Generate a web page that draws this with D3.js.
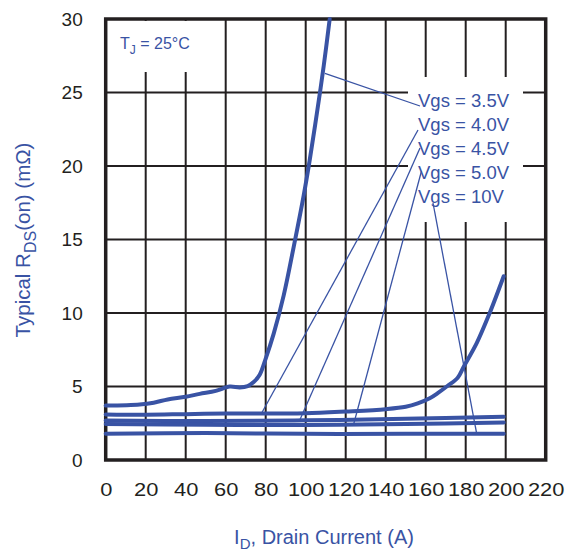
<!DOCTYPE html>
<html>
<head>
<meta charset="utf-8">
<script src="https://cdn.jsdelivr.net/npm/d3@7"></script>
<style>
  html, body { margin: 0; padding: 0; background: #fff; }
  svg { display: block; }
  text { font-family: "Liberation Sans", Arial, Helvetica, sans-serif; }
</style>
</head>
<body>
<svg id="chart" width="575" height="553"></svg>
<script>
// ---- data ----
const xTicks = [0, 20, 40, 60, 80, 100, 120, 140, 160, 180, 200, 220];
const yTicks = [0, 5, 10, 15, 20, 25, 30];

const seriesNames = ["Vgs = 3.5V", "Vgs = 4.0V", "Vgs = 4.5V", "Vgs = 5.0V", "Vgs = 10V"];

const id35 = [0, 17, 24, 31, 40, 47, 55, 62, 67, 71, 74, 77, 80, 84, 89, 94, 99, 102, 105.5, 109, 112];
const r35  = [3.7, 3.78, 3.9, 4.12, 4.3, 4.5, 4.7, 5.0, 4.94, 5.03, 5.3, 5.8, 6.9, 8.6, 11.2, 14.5, 18.0, 20.4, 23.5, 26.8, 30];

const id40 = [0, 20, 40, 60, 80, 100, 120, 140, 150, 156, 162, 166, 171, 176, 179, 185.5, 192, 199];
const r40  = [3.1, 3.08, 3.12, 3.16, 3.17, 3.18, 3.3, 3.46, 3.62, 3.85, 4.2, 4.55, 5.05, 5.6, 6.35, 7.95, 10.0, 12.5];

const id45 = [0, 50, 100, 150, 199];
const r45  = [2.68, 2.65, 2.7, 2.8, 2.95];

const id50 = [0, 50, 100, 150, 199];
const r50  = [2.45, 2.4, 2.38, 2.45, 2.55];

const id10 = [0, 50, 100, 150, 199];
const r10  = [1.78, 1.83, 1.78, 1.78, 1.78];

// leader targets on curves (data coords)
const leaderI = [109.6, 78, 97, 124, 185.5];
const leaderR = [26.3, 3.2, 2.7, 2.45, 1.8];

// ---- drawing ----
const svg = d3.select("#chart");
const blue = "#3953a4";
const ink = "#231f20";

const x = d3.scaleLinear().domain([0, 220]).range([105.7, 545.7]);
const y = d3.scaleLinear().domain([0, 30]).range([460, 19]);

// gridlines
const grid = svg.append("g");
grid.selectAll("line.v").data(xTicks.slice(1, -1)).enter().append("line")
  .attr("x1", d => x(d)).attr("x2", d => x(d))
  .attr("y1", y(0)).attr("y2", y(30))
  .attr("stroke", ink).attr("stroke-width", 2);
grid.selectAll("line.h").data(yTicks.slice(1, -1)).enter().append("line")
  .attr("x1", x(0)).attr("x2", x(220))
  .attr("y1", d => y(d)).attr("y2", d => y(d))
  .attr("stroke", ink).attr("stroke-width", 2);

// white boxes behind labels
svg.append("rect").attr("x", 107).attr("y", 21).attr("width", 108).attr("height", 51).attr("fill", "#fff");
svg.append("rect").attr("x", 408).attr("y", 77).attr("width", 115).attr("height", 145).attr("fill", "#fff");

// frame
svg.append("rect")
  .attr("x", x(0)).attr("y", y(30))
  .attr("width", x(220) - x(0)).attr("height", y(0) - y(30))
  .attr("fill", "none").attr("stroke", ink).attr("stroke-width", 3.5);

// axes (labels only)
const xAxis = svg.append("g").attr("transform", `translate(0,${y(0)})`)
  .call(d3.axisBottom(x).tickValues(xTicks).tickSize(0).tickPadding(24).tickFormat(d3.format("d")));
xAxis.select(".domain").remove();
xAxis.selectAll("text")
  .attr("font-size", 17.5).attr("fill", ink)
  .attr("font-family", "Liberation Sans, Arial, sans-serif")
  .attr("transform", "scale(1.25,1)");

const yAxis = svg.append("g").attr("transform", `translate(${x(0)},0)`)
  .call(d3.axisLeft(y).tickValues(yTicks).tickSize(0).tickPadding(23).tickFormat(d3.format("d")));
yAxis.select(".domain").remove();
yAxis.selectAll("text")
  .attr("font-size", 19).attr("fill", ink)
  .attr("font-family", "Liberation Sans, Arial, sans-serif");

// curves
const line = d3.line().x(d => x(d[0])).y(d => y(d[1])).curve(d3.curveCatmullRom.alpha(0.5));
const series = [
  d3.zip(id35, r35), d3.zip(id40, r40), d3.zip(id45, r45), d3.zip(id50, r50), d3.zip(id10, r10)
];
svg.append("g").selectAll("path").data(series).enter().append("path")
  .attr("d", line).attr("fill", "none")
  .attr("stroke", blue).attr("stroke-width", 4).attr("stroke-linecap", "round");

// labels + leaders
const labelX = 418, labelY0 = 107, labelDy = 24;
const leaderEnds = [[420, 106], [418, 130], [420, 148], [421.5, 171], [433, 203]];
const lg = svg.append("g");
seriesNames.forEach((name, i) => {
  lg.append("line")
    .attr("x1", x(leaderI[i])).attr("y1", y(leaderR[i]))
    .attr("x2", leaderEnds[i][0]).attr("y2", leaderEnds[i][1])
    .attr("stroke", blue).attr("stroke-width", 1.3);
  lg.append("text")
    .attr("x", labelX).attr("y", labelY0 + i * labelDy)
    .attr("font-size", 18.5).attr("fill", blue)
    .text(name);
});

// TJ label
const tj = svg.append("text").attr("x", 120).attr("y", 49).attr("font-size", 16).attr("fill", blue);
tj.append("tspan").text("T");
tj.append("tspan").attr("dy", 5).attr("font-size", 12).text("J");
tj.append("tspan").attr("dy", -5).text(" = 25°C");

// axis titles
const xt = svg.append("text").attr("x", 324).attr("y", 544).attr("text-anchor", "middle")
  .attr("font-size", 20).attr("fill", blue);
xt.append("tspan").text("I");
xt.append("tspan").attr("dy", 5).attr("font-size", 15).text("D");
xt.append("tspan").attr("dy", -5).text(", Drain Current (A)");

const yt = svg.append("text").attr("transform", "translate(30,240) rotate(-90)")
  .attr("text-anchor", "middle").attr("font-size", 20.5).attr("fill", blue);
yt.append("tspan").text("Typical R");
yt.append("tspan").attr("dy", 6).attr("font-size", 16).text("DS");
yt.append("tspan").attr("dy", -6).text("(on) (mΩ)");
</script>
</body>
</html>
